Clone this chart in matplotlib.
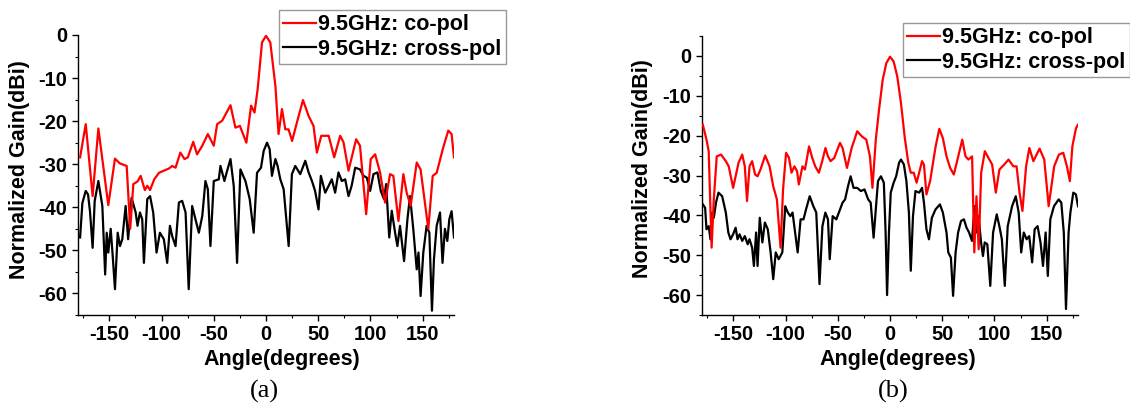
import matplotlib
matplotlib.use("Agg")
import matplotlib.pyplot as plt
from matplotlib.ticker import MultipleLocator

# ---------------- data ----------------
# Panel (a) co-pol
ang_a_co = [-178, -172.6, -166, -160.5, -151, -144.6, -140, -133.4, -130, -127,
            -123, -120, -116, -113.7, -111, -107, -102.5, -97.8, -93, -89.8,
            -86.6, -82, -78, -74.8, -69.7, -66, -61, -55.7, -50, -46.8,
            -42, -34, -29.3, -25, -18.8, -14.3, -11, -8, -3.8, 0,
            4.1, 9, 12, 15.3, 18.5, 21.6, 25, 29.6, 35.4, 40.8,
            45.5, 48.7, 52.9, 60, 65.3, 71, 74.2, 79, 86.3, 90,
            95.9, 100.3, 104.5, 109.2, 114, 118.8, 121.9, 126.8, 131.5, 134.7,
            138.5, 144.3, 148, 155.4, 159.6, 163.4, 169.7, 174.5, 177.7, 180]
gain_a_co = [-28.4, -20.7, -37.4, -21.7, -39.5, -28.7, -29.8, -30.4, -45, -34.6,
             -34, -32.7, -36, -35, -36, -33.5, -32, -31.5, -31, -30.4,
             -30.8, -27.3, -28.8, -28.4, -24.8, -27.7, -25.7, -23, -25.7, -20.7,
             -19.9, -16.3, -21.5, -21.1, -25, -16.4, -18, -12.6, -1.7, -0.2,
             -1.7, -11.8, -23, -17.2, -21.9, -21.9, -24.6, -20.3, -15.1, -18.8,
             -21.1, -27.3, -23.4, -23.4, -28.4, -23.4, -24.9, -31.5, -24.2, -25.7,
             -41.6, -28.8, -27.7, -31.9, -38.9, -32.3, -32.7, -43.2, -32.3, -36.6,
             -39.7, -29.6, -31.2, -45, -32.7, -32, -26.1, -22.2, -23, -28.4]

# Panel (a) cross-pol
ang_a_cx = [-178, -175.8, -172.6, -170.4, -168.5, -166, -164, -160.5, -156.7, -154,
            -152.5, -151, -148.7, -147, -144.6, -142, -139.8, -137.6, -134.4, -132,
            -128.7, -124.8, -123, -120.7, -118.5, -116.9, -113.7, -111, -108, -104.8,
            -101.6, -97.8, -94.6, -92, -89.8, -86.6, -83.4, -80.3, -77, -74,
            -70.7, -67.5, -64.3, -61, -58, -55.7, -53.2, -50, -45.2, -43.6,
            -39.8, -37.3, -34, -30.9, -27.7, -24.5, -19.7, -15.6, -11.8, -8.6,
            -4.8, -2.2, 1, 3.5, 5.7, 9, 11.1, 13.7, 16.9, 21.7,
            24.8, 28, 32.8, 37.6, 40.8, 44, 47, 50.3, 52.5, 56.7,
            60, 63, 66.2, 69.4, 72.6, 75.8, 79, 82, 85.4, 90,
            93.3, 96.5, 99.7, 102.9, 106.7, 109.9, 113, 115, 118, 120.4,
            123.6, 125.8, 128.3, 132.2, 135.4, 137.9, 141, 144.3, 146, 148,
            150.6, 153.8, 156.4, 158.9, 160.8, 163.4, 166.6, 169, 171.3, 173.6,
            175.5, 177.7, 180]
gain_a_cx = [-47, -39, -36.2, -37, -41, -49.4, -38.5, -33.9, -39.7, -55.6,
             -45.9, -50.5, -45, -50.5, -59, -45.9, -49, -47.4, -39.7, -47.4,
             -37.8, -41.2, -44.3, -41.2, -42.8, -52.9, -38.1, -37.4, -41.2, -50.5,
             -45.9, -47.4, -52.9, -44.3, -46.7, -49, -38.9, -38.5, -41.2, -59,
             -39.7, -42.8, -45.9, -42, -33.9, -35.8, -49, -33.9, -33.5, -30.4,
             -33.9, -31.6, -28.8, -35, -52.9, -31.2, -33.9, -38.1, -45.9, -32,
             -30.8, -26.9, -25, -26.5, -32.7, -28.8, -30.4, -33.5, -35.8, -49,
             -32.3, -30.4, -32.3, -29.2, -31.9, -33.9, -36.2, -40.5, -32.7, -36.6,
             -35, -33.5, -36.6, -31.9, -33.9, -33.5, -37.4, -35, -30.8, -31.2,
             -32.7, -33.1, -36.2, -32.3, -31.9, -36.2, -38.1, -34.6, -47, -40.8,
             -45.9, -49, -44.3, -52.5, -42.8, -37.4, -45, -54.4, -50.5, -60.6,
             -50.5, -44.3, -45.9, -64, -52.1, -44.3, -41.2, -52.9, -45, -47.8,
             -42.8, -40.9, -47]

# Panel (b) co-pol
ang_b_co = [-179.2, -175.7, -173.6, -170.8, -168.7, -165.9, -161.7, -157.2, -154.4, -150.2,
            -145, -141.5, -139, -136.9, -134.5, -132, -129.2, -126.8, -124, -119.5,
            -115.3, -111.8, -108.3, -104.8, -102.4, -99.5, -96.7, -94.3, -91.5, -89,
            -87.3, -83.8, -81.4, -77.5, -74.4, -71.6, -68.1, -65.3, -61.8, -59.4,
            -56.9, -53.4, -47.9, -45.4, -41.2, -36.7, -31.4, -26.9, -22.7, -19.2,
            -16.8, -13.6, -10.5, -7, -3.5, 0, 3.5, 7, 10.5, 14,
            17.5, 19.9, 22.7, 25.5, 27.9, 30.7, 32.5, 34.9, 38.4, 43.7,
            47.2, 50.6, 54.1, 57.6, 61.1, 64.6, 69.2, 72.3, 75.1, 78.6,
            80.7, 82.8, 84.9, 87.3, 90.8, 94.3, 97.8, 101.3, 104.8, 109.3,
            113.5, 118.1, 121.2, 124, 126.8, 130.3, 133.4, 137.3, 143.2, 147.7,
            151.9, 157.2, 161.7, 165.9, 169.4, 172.2, 174.6, 178.1, 180]
gain_b_co = [-17.25, -21, -23.9, -48.1, -36, -25.2, -24.75, -26.4, -27.7, -33.1,
             -26.8, -24.75, -27.7, -36.4, -27.7, -26.4, -29.75, -30.2, -28.5, -25,
             -27.7, -32.7, -36, -48.1, -33.5, -24.3, -25.6, -29.3, -27.7, -28.9,
             -32.25, -27.7, -28.5, -22.7, -25.6, -27.7, -29.3, -26.8, -23.1, -25.2,
             -26.4, -25.6, -21.8, -23.1, -28.1, -23.1, -18.9, -20.2, -21, -25.2,
             -33.1, -21, -13.5, -6, -1.8, -0.2, -1.4, -5.2, -11.8, -20.2,
             -26.8, -29.3, -29.3, -31.8, -29.3, -26.4, -27.25, -34.75, -31.4, -22.7,
             -18.3, -20.6, -25.2, -28.1, -29.75, -26, -21, -25.2, -26, -25.2,
             -49.3, -35.2, -48.5, -29.3, -23.9, -25.6, -27.25, -34.3, -28.5, -27.25,
             -26, -27.7, -27.7, -34.3, -38.9, -27.7, -23.1, -26.4, -23.25, -26,
             -37.7, -27.7, -24.75, -24.3, -27.7, -31.4, -22.7, -18.1, -17.25]

# Panel (b) cross-pol
ang_b_cx = [-179.2, -177, -175.7, -173.6, -171.9, -170.1, -168.7, -166.6, -164.2, -160.7,
            -157.2, -154.8, -152.7, -150.2, -147.8, -146, -144, -141.5, -139, -136.3,
            -134.5, -132, -130.3, -128.2, -126.8, -124.7, -122.2, -119.8, -117, -114.3,
            -111.8, -109.4, -106.6, -103.1, -100.3, -97.8, -95.4, -93.3, -90.8, -88.4,
            -85.6, -82.8, -80.4, -76.9, -73.4, -70.6, -67.5, -64.7, -61.9, -59.4,
            -57.7, -54.9, -51.4, -49, -45.4, -43, -40.2, -37.7, -34.9, -31.4,
            -27.9, -24.4, -20.9, -18.5, -15.7, -13.6, -11.5, -8.7, -5.9, -4.2,
            -2.8, -1, 0.7, 3.5, 5.9, 8.7, 10.5, 13.3, 15.7, 18.1,
            19.9, 22, 24.4, 27.9, 30.7, 32.5, 34.9, 37.3, 40.1, 43.6,
            47.8, 50.6, 54.1, 55.8, 58.3, 60.4, 62.8, 65.2, 68, 70.8,
            73.3, 75.7, 78.5, 81, 82.7, 84.8, 87.2, 89, 90.7, 93.2,
            96, 98.7, 102.2, 104.7, 107.1, 109.9, 112.7, 116.9, 120.4, 123.2,
            125.6, 128.1, 130.8, 133.3, 136.1, 138.5, 141.3, 144.1, 146.5, 149,
            151.1, 153.5, 157, 161.5, 164, 166.4, 168.5, 171, 172.7, 175.5,
            178, 180]
gain_b_cx = [-37.25, -38.1, -43.5, -42.7, -46, -39.3, -40.6, -36.8, -34.3, -35.2,
             -39.3, -44.3, -46, -44.75, -43.1, -46, -44.75, -46.4, -45.2, -47.25,
             -46, -48.1, -52.7, -44.3, -52.7, -40.6, -46.8, -41.8, -43.5, -49.3,
             -56, -49.3, -51, -49.3, -37.7, -39.3, -40.2, -39.3, -44.3, -49.3,
             -41, -41, -38.5, -35.2, -37.7, -39.3, -57.25, -42.7, -39.3, -41,
             -51, -40.2, -41, -39.3, -36.8, -36, -32.7, -30.2, -33.1, -33.1,
             -33.9, -33.5, -36, -36.8, -45.6, -38.5, -31.4, -30.2, -31.8, -44.3,
             -60, -44.3, -34.3, -31.8, -30.2, -26.8, -26, -27.25, -31.4, -39.3,
             -53.9, -40.2, -33.9, -34.3, -33.1, -36.8, -43.5, -46, -40.6, -38.5,
             -37.25, -39.3, -44.3, -49.3, -50.6, -60.2, -49.3, -44.3, -41.4, -41,
             -43.1, -44.3, -46.4, -37.7, -44.3, -40.2, -46.8, -50.2, -46.8, -47.25,
             -57.7, -44.3, -39.75, -42.7, -46, -57.7, -42.7, -37.7, -35.2, -39.3,
             -49.3, -44.3, -46, -45.2, -51.8, -43.5, -42.7, -46.8, -52.7, -44.3,
             -55.2, -41, -37.7, -36, -36.8, -44.3, -63.5, -44.3, -39.3, -34.3,
             -34.75, -37.7]

series_labels = ["9.5GHz: co-pol", "9.5GHz: cross-pol"]
x_ticks = [-150, -100, -50, 0, 50, 100, 150]
y_ticks = [0, -10, -20, -30, -40, -50, -60]
panel_tags = ["(a)", "(b)"]

# ---------------- styling ----------------
plt.rcParams["font.family"] = ["Liberation Sans", "DejaVu Sans"]
plt.rcParams["font.weight"] = "bold"
plt.rcParams["axes.unicode_minus"] = False

W, H = 1130, 409
fig = plt.figure(figsize=(W / 100, H / 100), dpi=100)

panels = [
    dict(rect=[78 / W, 94 / H, 376 / W, 280 / H], ylim=(-65, 0),
         co=(ang_a_co, gain_a_co), cx=(ang_a_cx, gain_a_cx),
         leg=(279 / W, 1 - 10 / H), ylab=(-0.128, 0.52), xlab=(0.543, -0.122),
         tag=(264 / W, 1 - 391 / H)),
    dict(rect=[702 / W, 94 / H, 376 / W, 279 / H], ylim=(-65, 5),
         co=(ang_b_co, gain_b_co), cx=(ang_b_cx, gain_b_cx),
         leg=(903 / W, 1 - 23 / H), ylab=(-0.130, 0.525), xlab=(0.521, -0.122),
         tag=(893 / W, 1 - 391 / H)),
]

for p, tag in zip(panels, panel_tags):
    ax = fig.add_axes(p["rect"])
    l_co, = ax.plot(*p["co"], color="#ff0000", lw=1.6, zorder=3,
                    label=series_labels[0])
    l_cx, = ax.plot(*p["cx"], color="black", lw=1.6, zorder=2,
                    label=series_labels[1])
    ax.set_xlim(-180, 180)
    ax.set_ylim(*p["ylim"])
    ax.set_xticks(x_ticks)
    ax.set_yticks(y_ticks)
    ax.xaxis.set_minor_locator(MultipleLocator(25))
    ax.yaxis.set_minor_locator(MultipleLocator(5))
    for s in ("top", "right"):
        ax.spines[s].set_visible(False)
    for s in ("left", "bottom"):
        ax.spines[s].set_linewidth(1.0)
    ax.tick_params(which="major", direction="out", length=4.5, width=1.0,
                   labelsize=14.5, pad=3)
    ax.tick_params(which="minor", direction="out", length=2.5, width=0.8)
    for lab in ax.get_xticklabels() + ax.get_yticklabels():
        lab.set_fontweight("bold")
    ax.set_xlabel("Angle(degrees)", fontsize=15.5, fontweight="bold")
    ax.set_ylabel("Normalized Gain(dBi)", fontsize=15.5, fontweight="bold")
    ax.xaxis.set_label_coords(*p["xlab"])
    ax.yaxis.set_label_coords(*p["ylab"])
    leg = ax.legend(handles=[l_co, l_cx], loc="upper left",
                    bbox_to_anchor=p["leg"], bbox_transform=fig.transFigure,
                    borderaxespad=0, frameon=True, fancybox=False,
                    edgecolor="#999999", framealpha=1,
                    handlelength=1.5, handletextpad=0.12, borderpad=0.2,
                    labelspacing=0.15, prop={"weight": "bold", "size": 15.5})
    leg.get_frame().set_linewidth(1.0)
    leg.set_zorder(5)
    fig.text(p["tag"][0], p["tag"][1], tag, ha="center", va="center",
             fontsize=19, family=["Liberation Serif", "DejaVu Serif"],
             fontweight="normal")

fig.savefig("out.png", dpi=100)
